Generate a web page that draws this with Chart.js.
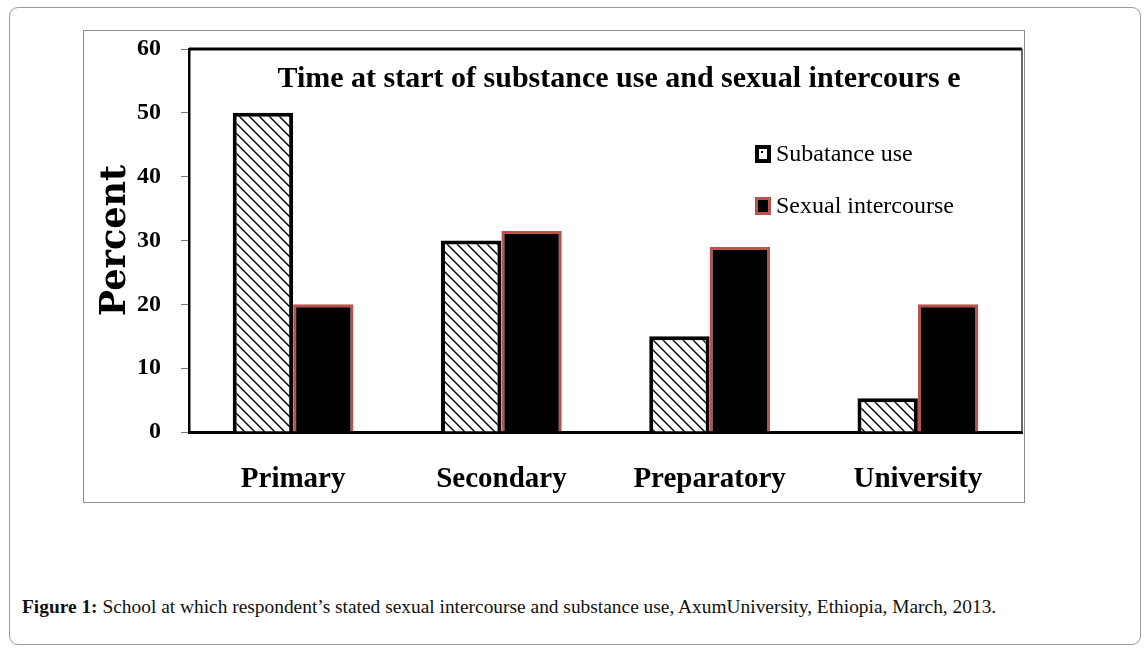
<!DOCTYPE html>
<html>
<head>
<meta charset="utf-8">
<script src="https://cdn.jsdelivr.net/npm/chart.js@4.4.1/dist/chart.umd.min.js"></script>
<style>
  html, body { margin: 0; padding: 0; background: #fff; }
  body { width: 1147px; height: 652px; position: relative; overflow: hidden; }
  #outer {
    position: absolute; left: 9px; top: 7px; width: 1132px; height: 638px;
    border: 1px solid #9a9a9a; border-radius: 9px; box-sizing: border-box;
  }
  #frame {
    position: absolute; left: 83px; top: 30px; width: 942px; height: 473px;
    border: 1px solid #8c8c8c; box-sizing: border-box;
  }
  #frame canvas { position: absolute; left: 0; top: 0; }
  #caption {
    position: absolute; left: 22px; top: 596px;
    font-family: "Liberation Serif", serif; font-size: 19.4px; color: #111;
    white-space: nowrap;
  }
  #caption b { font-weight: 600; }
</style>
</head>
<body>
<div id="outer"></div>
<div id="frame"><canvas id="chart" width="940" height="471"></canvas></div>
<div id="caption"><b>Figure 1:</b> School at which respondent’s stated sexual intercourse and substance use, AxumUniversity, Ethiopia, March, 2013.</div>

<script>
const categories = ["Primary", "Secondary", "Preparatory", "University"];
const substanceUse = [50, 30, 15, 5.3];
const sexualIntercourse = [20, 31.5, 29, 20];
const yTicks = [0, 10, 20, 30, 40, 50, 60];
const seriesNames = ["Subatance use", "Sexual intercourse"];
const chartTitle = "Time at start of substance use and sexual intercours e";

const SERIF = "'Liberation Serif', serif";
const RED = "#c0504d";

function hatch() {
  const c = document.createElement("canvas");
  c.width = 10; c.height = 10;
  const g = c.getContext("2d");
  g.fillStyle = "#fff";
  g.fillRect(0, 0, 10, 10);
  g.strokeStyle = "#000";
  g.lineWidth = 1.4;
  g.beginPath();
  g.moveTo(-1, -1); g.lineTo(11, 11);
  g.moveTo(-6, 4); g.lineTo(6, 16);
  g.moveTo(4, -6); g.lineTo(16, 6);
  g.stroke();
  return g.createPattern(c, "repeat");
}
const hatchFill = hatch();

const overlay = {
  id: "overlay",
  afterDraw(chart) {
    const { ctx, chartArea: a } = chart;
    ctx.save();
    // top and right frame of the plot
    ctx.strokeStyle = "#000";
    ctx.lineWidth = 3;
    ctx.beginPath();
    ctx.moveTo(a.left, a.top); ctx.lineTo(a.right, a.top);
    ctx.stroke();
    ctx.lineWidth = 1.5;
    ctx.strokeStyle = "#333";
    ctx.beginPath();
    ctx.moveTo(a.right, a.top); ctx.lineTo(a.right, a.bottom);
    ctx.stroke();

    // title inside the plot
    ctx.fillStyle = "#000";
    ctx.font = "bold 30px " + SERIF;
    ctx.textAlign = "center";
    ctx.textBaseline = "middle";
    ctx.fillText(chartTitle, a.left + 430, a.top + 30);

    // legend inside the plot
    ctx.font = "24px " + SERIF;
    ctx.textAlign = "left";
    const lx = a.left + 566;
    const rows = [a.top + 105, a.top + 157];
    // box 1: hatched
    ctx.fillStyle = "#000";
    ctx.fillRect(lx, rows[0] - 9, 16, 18);
    ctx.fillStyle = "#fff";
    ctx.fillRect(lx + 4, rows[0] - 5, 8, 10);
    ctx.fillStyle = "#000";
    ctx.fillRect(lx + 6, rows[0] - 3, 2, 2);
    // box 2: black with red edge
    ctx.fillStyle = RED;
    ctx.fillRect(lx, rows[1] - 9, 16, 18);
    ctx.fillStyle = "#000";
    ctx.fillRect(lx + 3, rows[1] - 6, 10, 12);
    ctx.fillStyle = "#000";
    ctx.fillText(seriesNames[0], lx + 21, rows[0] + 1);
    ctx.fillText(seriesNames[1], lx + 21, rows[1] + 1);
    ctx.restore();
  }
};

new Chart(document.getElementById("chart").getContext("2d"), {
  type: "bar",
  data: {
    labels: categories,
    datasets: [
      {
        label: seriesNames[0],
        data: substanceUse,
        backgroundColor: hatchFill,
        borderColor: "#000",
        borderWidth: 4,
        borderSkipped: "bottom",
      },
      {
        label: seriesNames[1],
        data: sexualIntercourse,
        backgroundColor: "#000",
        borderColor: RED,
        borderWidth: 3,
        borderSkipped: "bottom",
      },
    ],
  },
  options: {
    responsive: false,
    animation: false,
    devicePixelRatio: 1,
    categoryPercentage: 0.58,
    barPercentage: 1.0,
    layout: { padding: { top: 18, right: 2, left: 0, bottom: 0 } },
    plugins: {
      legend: { display: false },
      tooltip: { enabled: false },
    },
    scales: {
      x: {
        grid: { display: false },
        border: { display: true, color: "#000", width: 3 },
        ticks: {
          color: "#000",
          padding: 22,
          font: { family: SERIF, size: 29, weight: "bold" },
        },
        afterFit(s) { s.height = 70; s.paddingLeft = 0; s.paddingRight = 0; },
      },
      y: {
        min: 0,
        max: 60,
        afterBuildTicks(s) { s.ticks = yTicks.map(v => ({ value: v })); },
        grid: {
          drawOnChartArea: false,
          drawTicks: true,
          tickLength: 8,
          color: "#777",
        },
        border: { display: true, color: "#000", width: 2.5 },
        ticks: {
          color: "#000",
          padding: 20,
          font: { family: SERIF, size: 24, weight: "bold" },
        },
        title: {
          display: true,
          text: "Percent",
          color: "#000",
          padding: { top: 11, bottom: 0 },
          font: { family: "'DejaVu Serif', serif", size: 35, weight: "bold" },
        },
        afterFit(s) { s.width = 105; s.paddingTop = 0; s.paddingBottom = 0; },
      },
    },
  },
  plugins: [overlay],
});
</script>
</body>
</html>
